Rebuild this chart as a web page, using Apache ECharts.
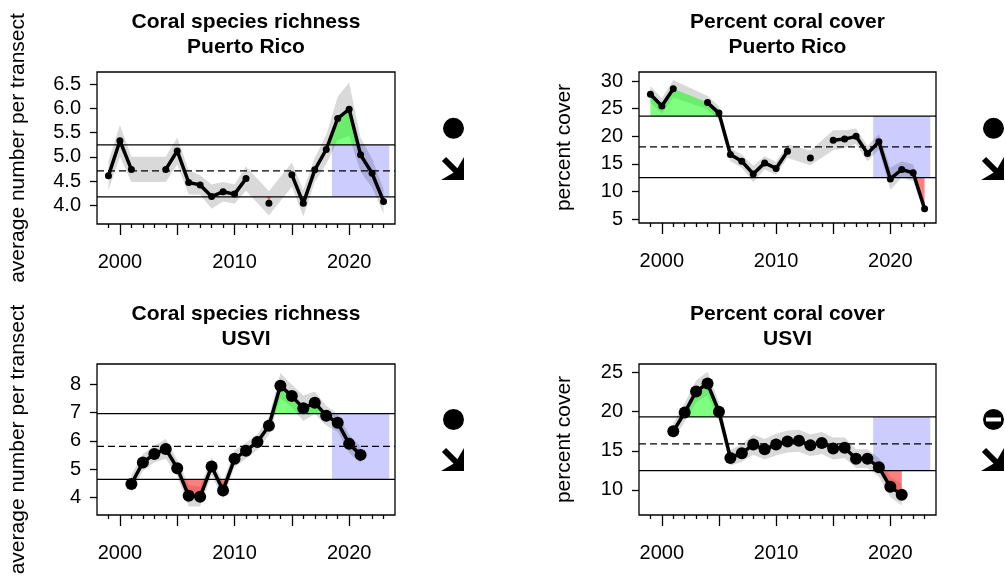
<!DOCTYPE html>
<html>
<head>
<meta charset="utf-8">
<script src="https://cdn.jsdelivr.net/npm/echarts@6/dist/echarts.min.js"></script>
<style>
html,body{margin:0;padding:0;background:#fff;}
#chart{width:1005px;height:578px;}
</style>
</head>
<body>
<div id="chart"></div>
<script>
// ---------- data ----------
const yearsPR = [1999,2000,2001,2002,2003,2004,2005,2006,2007,2008,2009,2010,2011,2012,2013,2014,2015,2016,2017,2018,2019,2020,2021,2022,2023];
const richPR   = [4.61,5.33,4.74,null,null,4.74,5.12,4.47,4.42,4.18,4.28,4.23,4.55,null,4.04,null,4.63,4.04,4.73,5.15,5.79,5.98,5.04,4.66,4.08];
const richPRse = [0.30,0.33,0.26,null,null,0.26,0.28,0.25,0.20,0.25,0.20,0.20,0.25,null,0.25,null,0.25,0.27,0.25,0.30,0.45,0.55,0.35,0.30,0.25];
const coverPR   = [27.6,25.5,28.6,null,null,26.1,24.2,16.7,15.5,13.2,15.2,14.2,17.3,null,16.1,null,19.3,19.5,20.0,16.9,19.0,12.3,14.0,13.4,6.9];
const coverPRse = [1.5,1.4,1.6,null,null,1.2,1.3,1.2,1.2,1.5,1.2,1.2,1.2,null,1.35,null,1.8,1.6,1.4,1.4,1.4,2.0,1.5,1.5,1.0];
const yearsVI = [2001,2002,2003,2004,2005,2006,2007,2008,2009,2010,2011,2012,2013,2014,2015,2016,2017,2018,2019,2020,2021];
const richVI   = [4.47,5.23,5.53,5.71,5.03,4.05,4.02,5.09,4.24,5.36,5.65,5.96,6.53,7.95,7.59,7.15,7.35,6.89,6.64,5.89,5.50];
const richVIse = [0.32,0.30,0.30,0.35,0.30,0.38,0.35,0.32,0.30,0.30,0.28,0.28,0.32,0.45,0.40,0.45,0.40,0.35,0.32,0.32,0.30];
const coverVI   = [17.5,19.9,22.6,23.6,20.0,14.1,14.7,15.8,15.2,15.8,16.2,16.3,15.7,16.0,15.3,15.4,14.0,14.0,12.9,10.4,9.4];
const coverVIse = [1.0,1.2,1.4,1.5,1.2,1.0,1.1,1.3,1.3,1.4,1.4,1.4,1.4,1.4,1.4,1.3,1.2,1.2,1.2,1.3,1.4];
const means = [4.71, 18.1, 5.80, 15.9];
const sds   = [0.535, 5.57, 1.165, 3.43];
const recentWindow = [2018.5, 2023.5];
const titles = ['Coral species richness\nPuerto Rico','Percent coral cover\nPuerto Rico','Coral species richness\nUSVI','Percent coral cover\nUSVI'];
const yNames = ['average number per transect','percent cover','average number per transect','percent cover'];
const yTicks = [[4.0,4.5,5.0,5.5,6.0,6.5],[5,10,15,20,25,30],[4,5,6,7,8],[10,15,20,25]];
const yRanges = [[3.614,6.748],[4.33,31.63],[3.37,8.72],[6.8,26.1]];
const xMajorTicks = [2000,2005,2010,2015,2020];
const xLabels = [2000,2010,2020];
const xMinorTicks = [1999,2001,2002,2003,2004,2006,2007,2008,2009,2011,2012,2013,2014,2016,2017,2018,2019,2021,2022,2023];
const xRange = [1998, 2024];

const panels = [
  {x: yearsPR, y: richPR,  se: richPRse,  dot: 7},
  {x: yearsPR, y: coverPR, se: coverPRse, dot: 7},
  {x: yearsVI, y: richVI,  se: richVIse,  dot: 12},
  {x: yearsVI, y: coverVI, se: coverVIse, dot: 12}
];
const grids = [
  {left: 97,  top: 72,  width: 298, height: 152},
  {left: 639, top: 72,  width: 297, height: 151},
  {left: 97,  top: 364, width: 298, height: 151},
  {left: 639, top: 364, width: 297, height: 151}
];
const FONT = 'Liberation Sans, Arial, sans-serif';

// ---------- helpers ----------
function validPts(p) {
  const pts = [];
  p.x.forEach((yr, i) => { if (p.y[i] != null) pts.push({x: yr, v: p.y[i], se: p.se[i]}); });
  return pts;
}
function isIsolated(pts, k) {
  const yr = pts[k].x;
  return !pts.some((q, j) => j !== k && Math.abs(q.x - yr) === 1);
}
// polygons of region beyond threshold (sign=+1 above, -1 below)
function exceedPolys(pts, thr, sign) {
  const polys = [];
  let cur = null;
  const inside = v => sign * (v - thr) > 0;
  for (let i = 0; i < pts.length; i++) {
    const p = pts[i];
    if (i === 0) {
      if (inside(p.v)) cur = [[p.x, thr], [p.x, p.v]];
      continue;
    }
    const a = pts[i - 1];
    const ia = inside(a.v), ib = inside(p.v);
    if (ia !== ib) {
      const t = (thr - a.v) / (p.v - a.v);
      const cx = a.x + t * (p.x - a.x);
      if (ia) { cur.push([cx, thr]); polys.push(cur); cur = null; }
      else { cur = [[cx, thr]]; }
    }
    if (ib) cur.push([p.x, p.v]);
  }
  if (cur) { cur.push([cur[cur.length - 1][0], thr]); polys.push(cur); }
  return polys;
}

const option = {
  animation: false,
  backgroundColor: '#fff',
  title: [], grid: [], xAxis: [], yAxis: [], series: [], graphic: []
};

panels.forEach((p, i) => {
  const g = grids[i];
  option.grid.push(Object.assign({show: true, borderColor: '#000', borderWidth: 1.3, backgroundColor: 'transparent'}, g));
  option.title.push({
    text: titles[i], left: g.left + g.width / 2, top: g.top - 62, textAlign: 'center', padding: 0,
    textStyle: {fontFamily: FONT, fontSize: 21, fontWeight: 'bold', color: '#000', lineHeight: 25}
  });
  option.xAxis.push({
    type: 'value', gridIndex: i, min: xRange[0], max: xRange[1], position: 'bottom',
    axisLine: {show: false}, splitLine: {show: false},
    axisTick: {show: true, customValues: xMajorTicks, length: 11, lineStyle: {color: '#000', width: 1.3}},
    axisLabel: {show: true, customValues: xLabels, margin: 28, fontSize: 20, fontFamily: FONT, color: '#000',
      formatter: v => String(Math.round(v))}
  });
  option.xAxis.push({
    type: 'value', gridIndex: i, min: xRange[0], max: xRange[1], position: 'bottom', offset: 0,
    axisLine: {show: false}, splitLine: {show: false}, axisLabel: {show: false},
    axisTick: {show: true, customValues: xMinorTicks, length: 4, lineStyle: {color: '#000', width: 1.3}}
  });
  option.yAxis.push({
    type: 'value', gridIndex: i, min: yRanges[i][0], max: yRanges[i][1],
    axisLine: {show: false}, splitLine: {show: false},
    axisTick: {show: true, customValues: yTicks[i], length: 7, lineStyle: {color: '#000', width: 1.3}},
    axisLabel: {show: true, customValues: yTicks[i], margin: 16, fontSize: 20, fontFamily: FONT, color: '#000',
      formatter: v => (i === 0 ? Number(v).toFixed(1) : String(v))},
    name: yNames[i], nameLocation: 'middle', nameGap: i % 2 === 0 ? 68 : 64,
    nameTextStyle: {fontFamily: FONT, fontSize: 21, color: '#000'}
  });

  const xi = 2 * i, yi = i;
  const pts = validPts(p);
  const mean = means[i], sd = sds[i];
  const upper = mean + sd, lower = mean - sd;
  const anchor = [[2010, mean]];

  // recent window rectangle
  option.series.push({
    type: 'custom', xAxisIndex: xi, yAxisIndex: yi, z: 1, silent: true, data: anchor,
    renderItem: (params, api) => {
      const a = api.coord([recentWindow[0], upper]);
      const b = api.coord([recentWindow[1], lower]);
      return {type: 'rect', shape: {x: a[0], y: a[1], width: b[0] - a[0], height: b[1] - a[1]},
              style: {fill: 'rgba(0,0,255,0.2)'}};
    }
  });
  // SE ribbon
  option.series.push({
    type: 'custom', xAxisIndex: xi, yAxisIndex: yi, z: 2, silent: true, data: anchor,
    renderItem: (params, api) => {
      const up = pts.map(q => api.coord([q.x, q.v + q.se]));
      const lo = pts.map(q => api.coord([q.x, q.v - q.se])).reverse();
      return {type: 'polygon', shape: {points: up.concat(lo)}, style: {fill: 'rgba(0,0,0,0.15)'}};
    }
  });
  // exceedance fills
  option.series.push({
    type: 'custom', xAxisIndex: xi, yAxisIndex: yi, z: 3, silent: true, data: anchor,
    renderItem: (params, api) => {
      const conn = pts.filter((q, k) => !isIsolated(pts, k));
      const children = [];
      exceedPolys(conn, upper, 1).forEach(poly => children.push({type: 'polygon',
        shape: {points: poly.map(c => api.coord(c))}, style: {fill: 'rgba(0,255,0,0.5)'}}));
      exceedPolys(conn, lower, -1).forEach(poly => children.push({type: 'polygon',
        shape: {points: poly.map(c => api.coord(c))}, style: {fill: 'rgba(255,0,0,0.5)'}}));
      pts.forEach((q, k) => {
        if (!isIsolated(pts, k)) return;
        let thr = null, col = null;
        if (q.v > upper) { thr = upper; col = 'rgba(0,255,0,0.5)'; }
        if (q.v < lower) { thr = lower; col = 'rgba(255,0,0,0.5)'; }
        if (thr == null) return;
        children.push({type: 'polygon', shape: {points: [api.coord([q.x - 0.15, thr]), api.coord([q.x + 0.15, thr]), api.coord([q.x, q.v])]},
          style: {fill: col}});
      });
      return {type: 'group', children};
    }
  });
  // reference lines
  option.series.push({
    type: 'custom', xAxisIndex: xi, yAxisIndex: yi, z: 4, silent: true, data: anchor,
    renderItem: (params, api) => {
      const mk = (v, dash) => {
        const a = api.coord([xRange[0], v]), b = api.coord([xRange[1], v]);
        return {type: 'line', shape: {x1: a[0], y1: a[1], x2: b[0], y2: b[1]},
          style: {stroke: '#000', lineWidth: 1.3, lineDash: dash}};
      };
      return {type: 'group', children: [mk(upper, null), mk(lower, null), mk(mean, [7, 4])]};
    }
  });
  // data line
  option.series.push({
    type: 'line', xAxisIndex: xi, yAxisIndex: yi, z: 5, silent: true,
    data: p.x.map((yr, k) => [yr, p.y[k]]),
    connectNulls: false,
    symbol: 'circle', symbolSize: p.dot, showSymbol: true,
    itemStyle: {color: '#000'},
    lineStyle: {color: '#000', width: 3.5}
  });
});

// status symbols
function circleSym(cx, cy) {
  return {type: 'circle', shape: {cx, cy, r: 10.5}, style: {fill: '#000'}};
}
function arrowSym(cx, cy) {
  const P = (dx, dy) => [cx + dx, cy + dy];
  return [
    {type: 'polygon', shape: {points: [P(10.5, -11.5), P(10.5, 11.5), P(-12.5, 11.5), P(2, 3)]}, style: {fill: '#000'}},
    {type: 'line', shape: {x1: cx - 9.5, y1: cy - 9.5, x2: cx + 3, y2: cy + 3}, style: {stroke: '#000', lineWidth: 6}}
  ];
}
const symPos = [[453.5, 128.3, 168.5], [993.5, 128.3, 168.5], [453.5, 419.5, 459.5], [993.5, 419.5, 459.5]];
symPos.forEach((s, i) => {
  option.graphic.push(circleSym(s[0], s[1]));
  if (i === 3) option.graphic.push({type: 'rect', shape: {x: s[0] - 7.5, y: s[1] - 2, width: 15, height: 4}, style: {fill: '#fff'}, z: 101});
  arrowSym(s[0], s[2]).forEach(e => option.graphic.push(e));
});

const chart = echarts.init(document.getElementById('chart'), null, {renderer: 'canvas'});
chart.setOption(option);
</script>
</body>
</html>
